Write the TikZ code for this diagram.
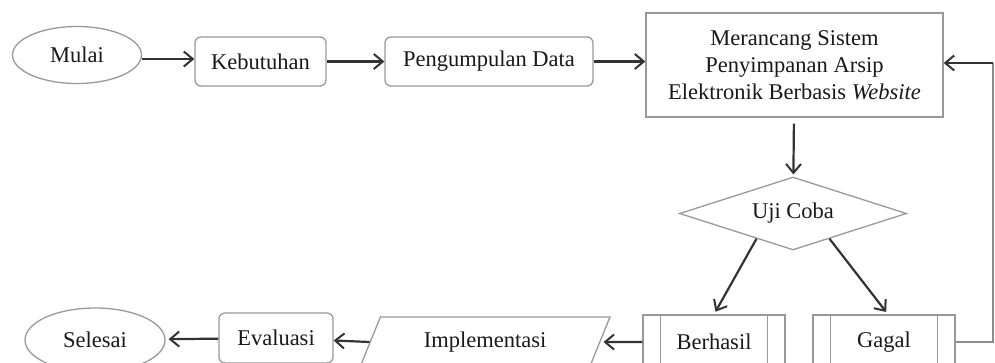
\documentclass[tikz,border=0pt]{standalone}
\usepackage{fontspec}
\setmainfont{Liberation Serif}
\usetikzlibrary{shapes.geometric,arrows.meta,calc}
\begin{document}
\begin{tikzpicture}[x=1pt,y=-1pt,
  every node/.style={font=\fontsize{22.5}{27}\selectfont, text=black!90},
  box/.style={draw=black!40, line width=1.3pt, inner sep=0pt, align=center},
  rbox/.style={box, rounded corners=6pt},
  term/.style={box, ellipse},
  arr/.style={draw=black!80, line width=2.2pt, -{Straight Barb[length=9pt,width=15pt,line width=2pt]}},
  ]
\useasboundingbox (0,0) rectangle (995,362);
\node[term, minimum width=129, minimum height=57] (mulai) at (77,55) {Mulai};
\node[rbox, minimum width=131, minimum height=49] (keb) at (260.5,61.5) {Kebutuhan};
\node[rbox, minimum width=208, minimum height=49] (peng) at (489,61.5) {Pengumpulan Data};
\node[box, minimum width=297, minimum height=104] (mer) at (794.5,65) {Merancang Sistem\\Penyimpanan Arsip\\Elektronik Berbasis \textit{Website}};
\node[box, diamond, aspect=3.1, minimum width=227, minimum height=73] (uji) at (793,213.5) {Uji Coba};
\node[box, minimum width=142, minimum height=54] (ber) at (714,342) {Berhasil};
\node[box, minimum width=142, minimum height=54] (gag) at (884,342) {Gagal};
\foreach \n in {ber,gag}{
  \draw[draw=black!40, line width=1.3pt] ($(\n.north west)+(18,0)$) -- ($(\n.south west)+(18,0)$);
  \draw[draw=black!40, line width=1.3pt] ($(\n.north east)+(-18,0)$) -- ($(\n.south east)+(-18,0)$);
}
\node[box, trapezium, trapezium left angle=45, trapezium right angle=135, trapezium stretches body=true, minimum width=250, minimum height=50] (imp) at (485,342) {Implementasi};
\node[rbox, minimum width=114, minimum height=50] (eva) at (276,338) {Evaluasi};
\node[term, minimum width=140, minimum height=64] (sel) at (95,340) {Selesai};

\draw[arr] (mulai.east |- 0,59) -- (keb.west |- 0,59);
\draw[arr] (keb) -- (peng);
\draw[arr] (peng) -- (mer.west |- peng);
\draw[arr, shorten <=6pt, shorten >=2pt] (mer) -- (uji);
\draw[arr, shorten >=3pt] ($(uji.south)!0.32!(uji.west)$) -- (ber.north);
\draw[arr, shorten >=3pt] ($(uji.south)!0.32!(uji.east)$) -- ($(gag.north)+(4,0)$);
\draw[arr, shorten >=3pt] (ber) -- (imp.east);
\draw[arr] (imp.west) -- (eva);
\draw[arr, shorten >=3pt] (eva) -- (sel);
\draw[draw=black!45, line width=1.3pt] (gag.east) -- (993,342) coordinate (fb) -- (fb |- 0,63) coordinate (fbt);
\draw[arr] (fbt) -- (mer.east |- 0,63);
\end{tikzpicture}
\end{document}
